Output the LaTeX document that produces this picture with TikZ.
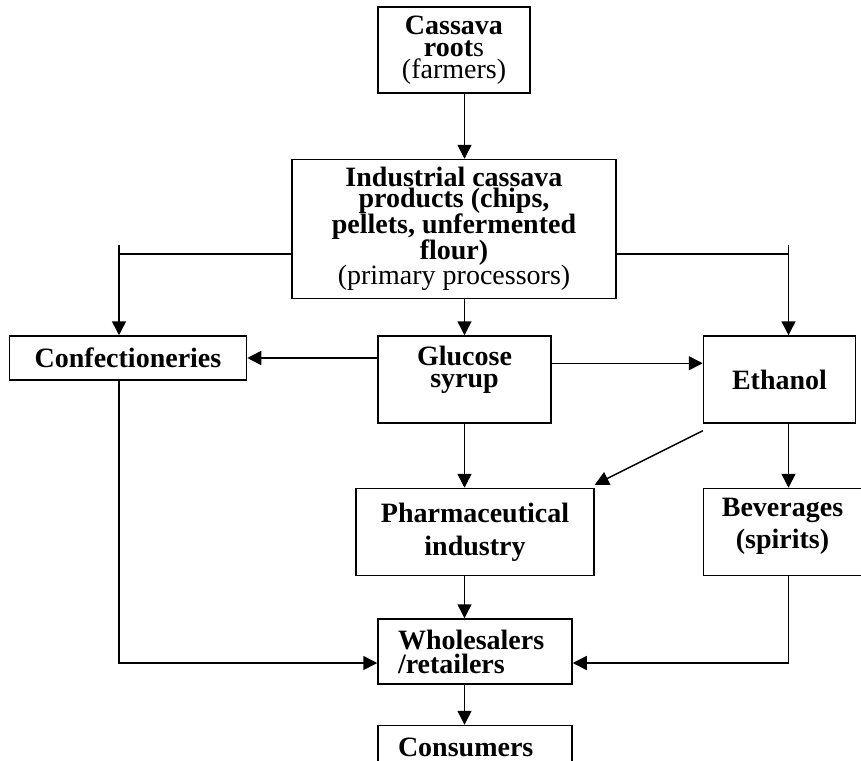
\documentclass[tikz,border=0pt]{standalone}
\usepackage{fontspec}
\setmainfont{Liberation Serif}
\usetikzlibrary{arrows.meta, positioning}

\begin{document}
\begin{tikzpicture}[
    x=1pt, y=1pt,
    >={Triangle[length=14pt, width=14pt]},
    font=\fontsize{28pt}{22pt}\selectfont\bfseries,
    box/.style={rectangle, draw, line width=1.5pt, inner sep=0pt, align=center},
    leftbox/.style={box, text width=154pt, inner xsep=20pt, align=left, minimum width=194pt},
    arrow/.style={->, line width=1.5pt},
    link/.style={line width=1.5pt}
]
\useasboundingbox (0,0) rectangle (861,-760);

\node[box, minimum width=152pt, minimum height=86pt] (roots) at (454,-50) {Cassava\\root{\mdseries s}\\{\mdseries (farmers)}};
\node[box, minimum width=324pt, minimum height=139pt, below=65pt of roots] (industrial) {Industrial cassava\\[-1pt]products (chips,\\[-1pt]pellets, unfermented\\[-1pt]flour)\\[-1pt]{\mdseries (primary processors)}};
\node[box, minimum width=173pt, minimum height=87pt, text depth=26pt, below=36pt of industrial, xshift=10.5pt] (glucose) {Glucose\\syrup};
\node[box, minimum width=237pt, minimum height=44pt, left=130pt of glucose.north west, anchor=north east] (conf) {Confectioneries};
\node[box, minimum width=152pt, minimum height=87pt, right=151pt of glucose.north east, anchor=north west] (ethanol) {Ethanol};
\node[box, minimum width=238pt, minimum height=87pt, below=64pt of glucose.south west, anchor=north west, xshift=-22pt] (pharma) {Pharmaceutical\\[11pt]industry};
\node[box, minimum width=158pt, minimum height=87pt, text depth=17pt, below=64pt of ethanol.south west, anchor=north west] (beverages) {Beverages\\[5pt](spirits)};
\node[leftbox, minimum height=65pt, below=42pt of pharma] (wholesalers) {Wholesalers\\[2pt]/retailers};
\node[leftbox, minimum height=44pt, below=40pt of wholesalers] (consumers) {Consumers};

% side branches from the primary processors
\coordinate (ljoin) at (119,-254);
\coordinate (rjoin) at (788.5,-254);

\draw[arrow] (roots.south -| glucose) -- (industrial.north -| glucose);
\draw[arrow] (industrial.south -| glucose) -- (glucose.north);
\draw[link] (industrial.west |- ljoin) -- (ljoin);
\draw[link] (industrial.east |- rjoin) -- (rjoin);
\draw[arrow] ([yshift=9pt]ljoin) -- (ljoin |- conf.north);
\draw[arrow] ([yshift=9pt]rjoin) -- (rjoin |- ethanol.north);
\draw[arrow] (glucose.west |- conf) -- (conf.east);
\draw[arrow] ([yshift=-28pt]glucose.north east) -- ([yshift=-28pt]ethanol.north west);
\draw[arrow] (glucose.south) -- (glucose.south |- pharma.north);
\draw[arrow] ([yshift=-7pt]ethanol.south west) -- ([yshift=3pt]pharma.north east);
\draw[arrow] (ethanol.south -| rjoin) -- (beverages.north -| rjoin);
\draw[arrow] (conf.south -| ljoin) |- ([yshift=-11.5pt]wholesalers.west);
\draw[arrow] (beverages.south -| rjoin) |- ([yshift=-11.5pt]wholesalers.east);
\draw[arrow] (pharma.south -| glucose) -- (wholesalers.north -| glucose);
\draw[arrow] (wholesalers.south -| glucose) -- (consumers.north -| glucose);
\end{tikzpicture}
\end{document}
